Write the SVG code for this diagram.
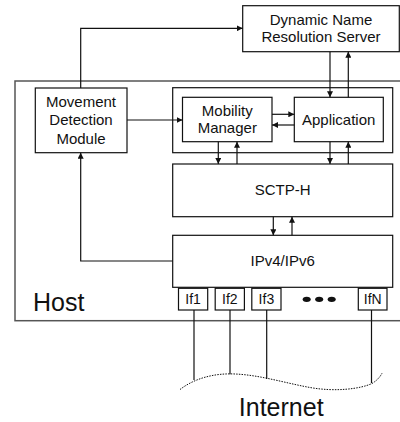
<svg xmlns="http://www.w3.org/2000/svg" width="400" height="422" viewBox="0 0 400 422">
<defs>
<style>
.box{fill:#fff;stroke:#111;stroke-width:1.2}
.host{fill:#fff;stroke:#555;stroke-width:1.5}
.t{font-family:"Liberation Sans",Arial,sans-serif;font-size:15px;fill:#111;text-anchor:middle}
.big{font-family:"Liberation Sans",Arial,sans-serif;font-size:25px;fill:#111}
.sm{font-family:"Liberation Sans",Arial,sans-serif;font-size:14px;fill:#111;text-anchor:middle}
.c{fill:none;stroke:#111;stroke-width:1.2}
.a{fill:none;stroke:#111;stroke-width:1.2;marker-end:url(#ah)}
</style>
<marker id="ah" viewBox="0 0 10 10" refX="10" refY="5" markerWidth="6" markerHeight="6" markerUnits="userSpaceOnUse" orient="auto">
<path d="M0,0 L10,5 L0,10 Z" fill="#111"/>
</marker>
</defs>
<rect width="400" height="422" fill="#fff"/>
<g id="host">
<rect class="host" x="15" y="81" width="390" height="239.7"/>
<text class="big" x="33" y="310.5">Host</text>
</g>
<g id="dnrs">
<rect class="box" x="242.7" y="5.7" width="156.6" height="46"/>
<text class="t" x="321" y="25.3">Dynamic Name</text>
<text class="t" x="321" y="42.3">Resolution Server</text>
</g>
<g id="mdm">
<rect class="box" x="35.3" y="88" width="91.7" height="64.7"/>
<text class="t" x="81" y="106.5">Movement</text>
<text class="t" x="81" y="125.2">Detection</text>
<text class="t" x="81" y="143.9">Module</text>
</g>
<g id="appcontainer">
<rect class="box" x="172.7" y="87.7" width="220" height="65"/>
</g>
<g id="mm">
<rect class="box" x="182.5" y="97.3" width="89.5" height="44.4"/>
<text class="t" x="227.3" y="115.5">Mobility</text>
<text class="t" x="227.3" y="132.5">Manager</text>
</g>
<g id="app">
<rect class="box" x="294.3" y="97.3" width="89" height="44.4"/>
<text class="t" x="338.7" y="124.5">Application</text>
</g>
<g id="sctp">
<rect class="box" x="172.7" y="164" width="220" height="52.7"/>
<text class="t" x="282.7" y="195.3">SCTP-H</text>
</g>
<g id="ip">
<rect class="box" x="172.7" y="235.3" width="220" height="52"/>
<text class="t" x="282.7" y="266">IPv4/IPv6</text>
</g>
<g id="if1">
<rect class="box" x="178.5" y="288.3" width="29.2" height="21.7"/>
<text class="sm" x="193.1" y="304">If1</text>
</g>
<g id="if2">
<rect class="box" x="215.2" y="288.3" width="29.2" height="21.7"/>
<text class="sm" x="229.8" y="304">If2</text>
</g>
<g id="if3">
<rect class="box" x="251.8" y="288.3" width="29.2" height="21.7"/>
<text class="sm" x="266.4" y="304">If3</text>
</g>
<g id="ellipsis">
<ellipse cx="306.7" cy="299.3" rx="4" ry="2.6" fill="#111"/>
<ellipse cx="319.2" cy="299.3" rx="4" ry="2.6" fill="#111"/>
<ellipse cx="331.7" cy="299.3" rx="4" ry="2.6" fill="#111"/>
</g>
<g id="ifn">
<rect class="box" x="358.3" y="288.3" width="28.7" height="21.7"/>
<text class="sm" x="372.7" y="304">IfN</text>
</g>
<g id="internet">
<path d="M180,389.5 C195,378 215,373 235,374 C260,375 285,383 310,387.5 C335,392 360,389 372,383.5 C377,380.5 380,377 382,373.3" fill="none" stroke="#111" stroke-width="1" stroke-dasharray="1.5,1.2"/>
<text class="big" x="281.2" y="415.5" text-anchor="middle">Internet</text>
</g>
<g id="connectors">
<polyline class="a" points="80.7,88 80.7,28.3 242.7,28.3"/>
<line class="a" x1="127" y1="120" x2="182.5" y2="120"/>
<line class="a" x1="272" y1="114.3" x2="294.3" y2="114.3"/>
<line class="a" x1="294.3" y1="125" x2="272" y2="125"/>
<line class="a" x1="330" y1="51.7" x2="330" y2="97.3"/>
<line class="a" x1="348.3" y1="97.3" x2="348.3" y2="51.7"/>
<line class="a" x1="218.3" y1="141.7" x2="218.3" y2="164"/>
<line class="a" x1="237" y1="164" x2="237" y2="141.7"/>
<line class="a" x1="330" y1="141.7" x2="330" y2="164"/>
<line class="a" x1="348.3" y1="164" x2="348.3" y2="141.7"/>
<line class="a" x1="273.3" y1="216.7" x2="273.3" y2="235.3"/>
<line class="a" x1="292" y1="235.3" x2="292" y2="216.7"/>
<polyline class="a" points="172.7,261 80.7,261 80.7,152.7"/>
<line class="c" x1="194" y1="310" x2="194" y2="380"/>
<line class="c" x1="230" y1="310" x2="230" y2="374.3"/>
<line class="c" x1="266.7" y1="310" x2="266.7" y2="379"/>
<line class="c" x1="371.5" y1="310" x2="371.5" y2="383"/>
</g>
</svg>
